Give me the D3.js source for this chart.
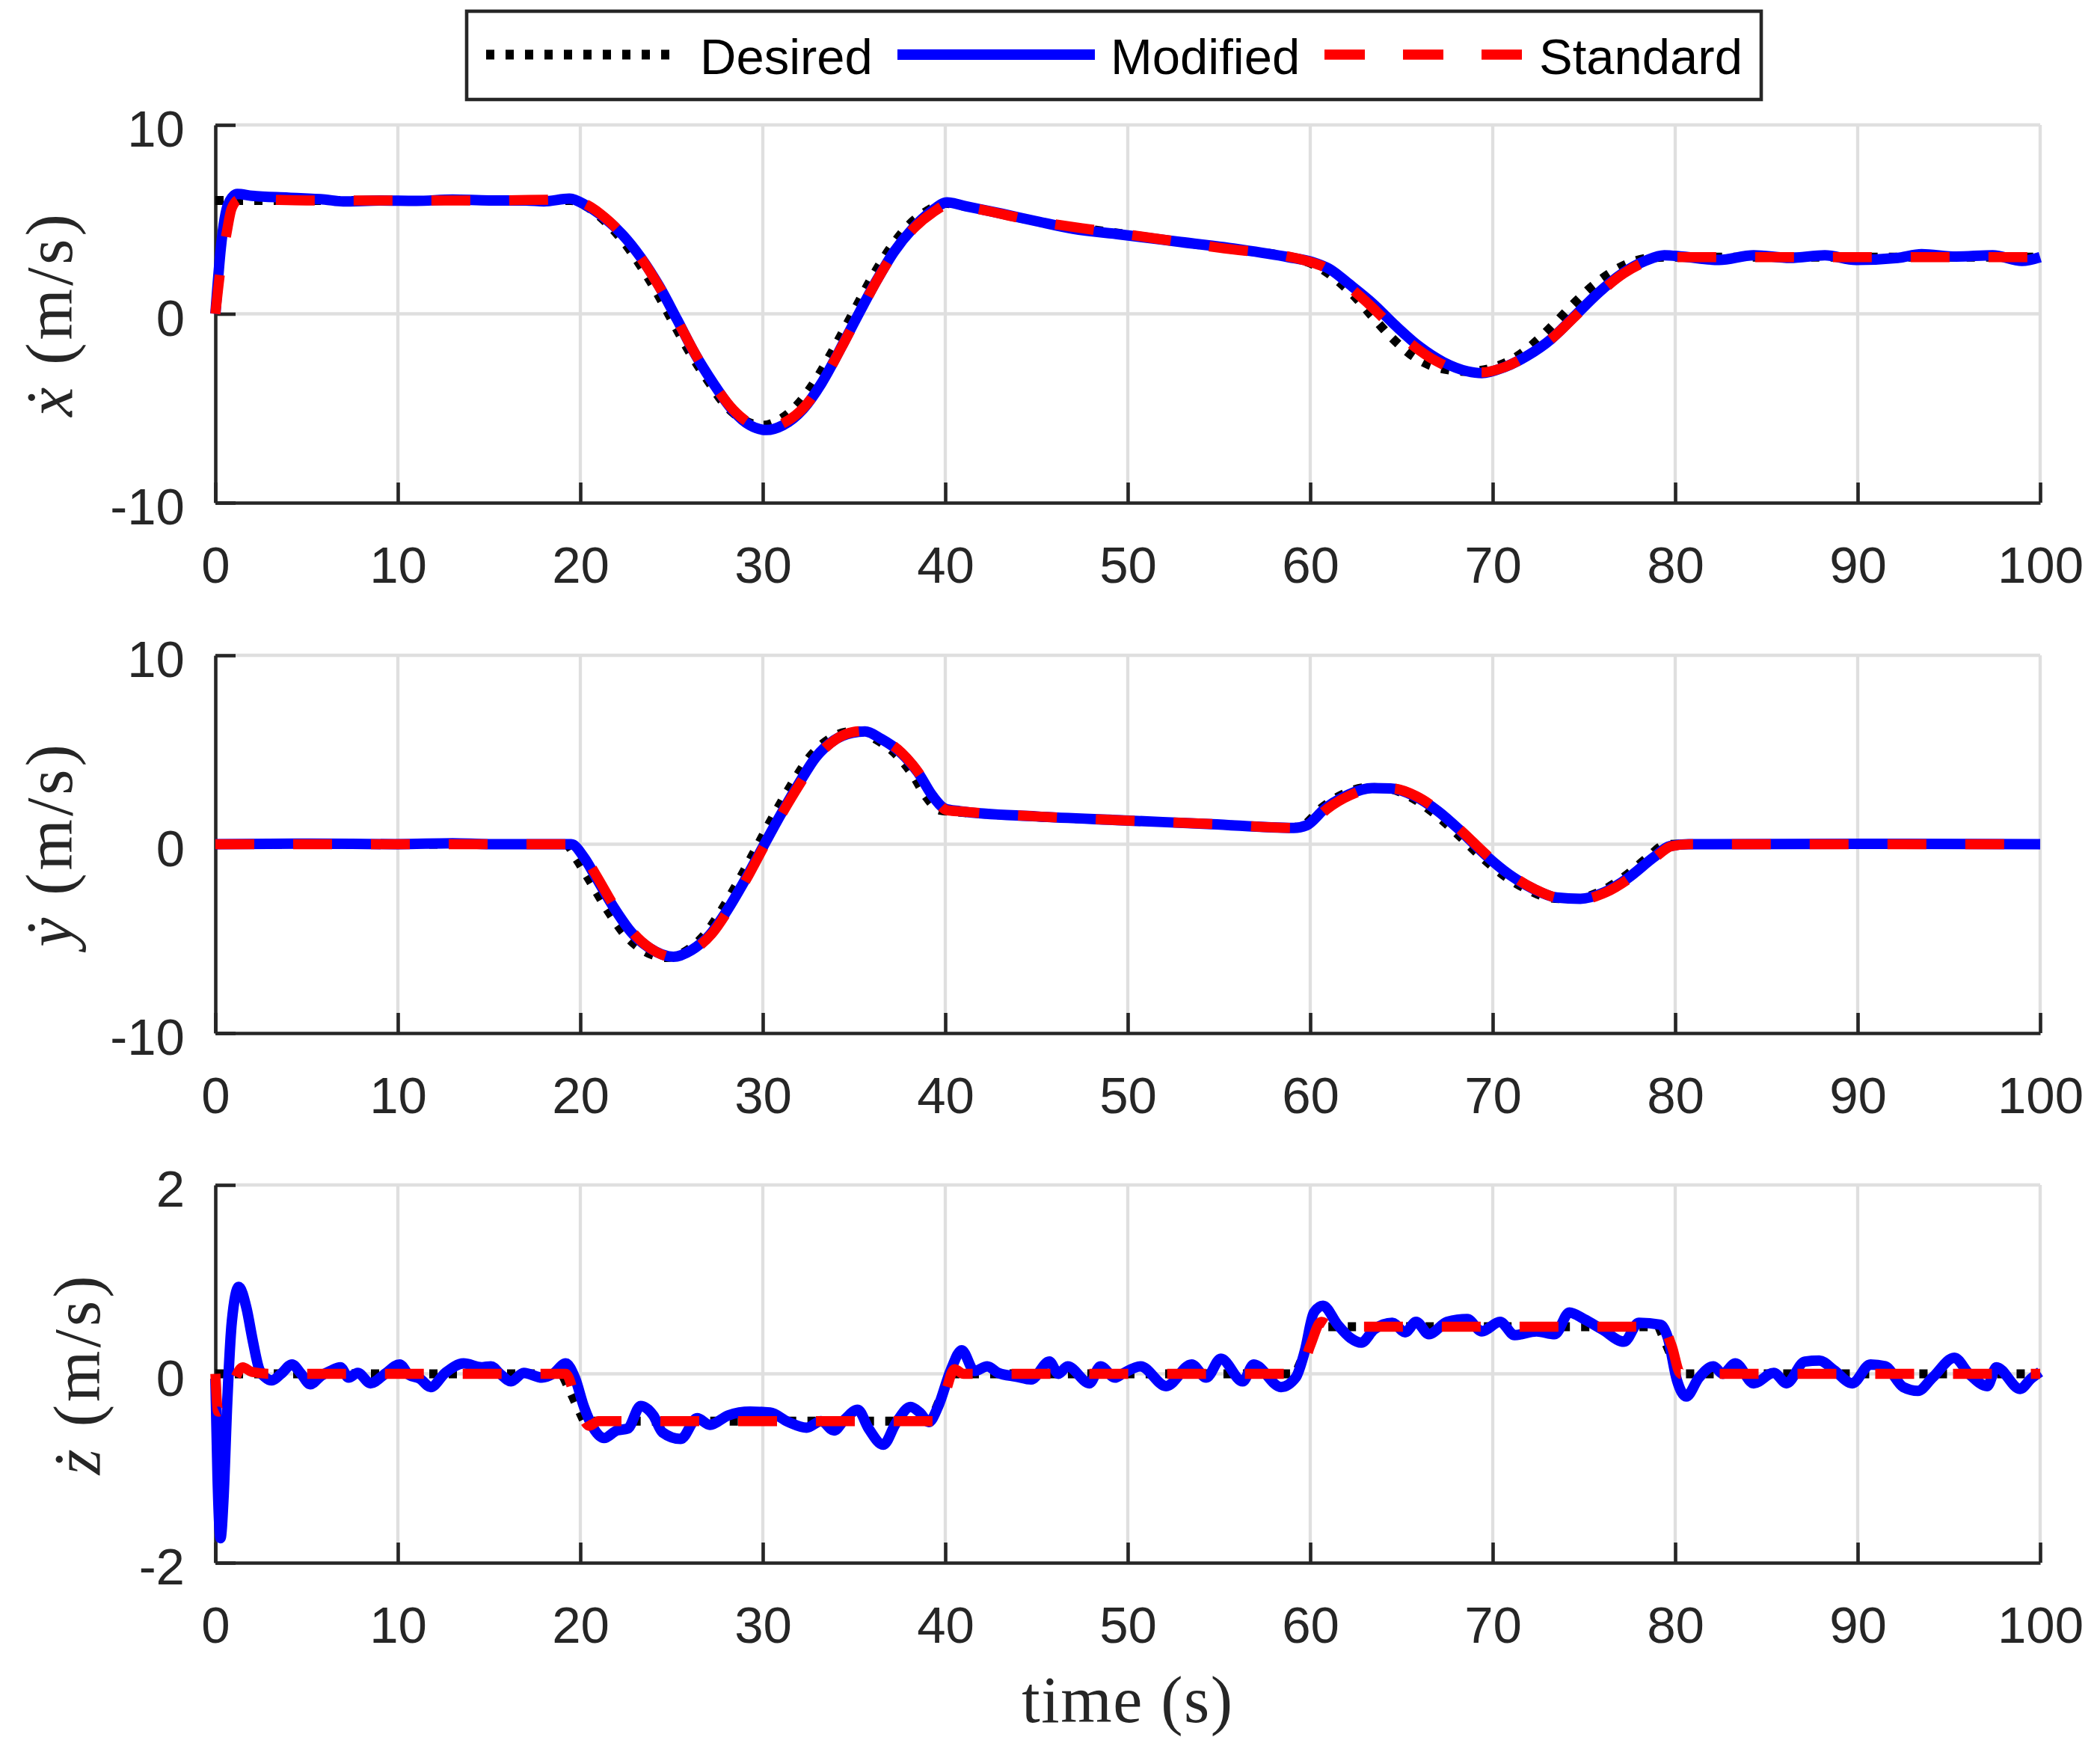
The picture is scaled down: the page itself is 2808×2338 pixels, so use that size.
<!DOCTYPE html>
<html>
<head>
<meta charset="utf-8">
<script src="https://cdn.jsdelivr.net/npm/d3@7"></script>
<style>
  body { margin: 0; background: #fff; }
</style>
</head>
<body>
<div id="chart"></div>
<script>
// ---- Data ----
const timeTicks = [0, 10, 20, 30, 40, 50, 60, 70, 80, 90, 100];
const xyTicks = [-10, 0, 10];
const zTicks = [-2, 0, 2];
const seriesNames = ["Desired", "Modified", "Standard"];

// x velocity [time, value]
const xDesired = [[0,6],[19.5,6],[20.3,5.7],[21.3,4.95],[22.3,3.9],[23.3,2.55],[24.3,0.95],[25.0,-0.3],[26.0,-2.05],[27.0,-3.55],[28.0,-4.9],[29.0,-5.65],[30.0,-5.9],[31.0,-5.55],[32.0,-4.7],[33.0,-3.35],[34.0,-1.65],[35.0,0.15],[36.0,1.95],[37.0,3.5],[38.0,4.7],[39.0,5.45],[40.0,5.85],[41.0,5.7],[45.0,4.9],[50.0,4.2],[55.0,3.5],[59.5,2.85],[60.5,2.45],[61.5,1.75],[62.5,0.85],[63.5,-0.25],[64.5,-1.3],[65.5,-2.15],[66.5,-2.7],[67.5,-2.95],[68.5,-3.05],[69.3,-3.0],[70.3,-2.75],[71.5,-2.15],[72.5,-1.35],[73.5,-0.4],[74.5,0.6],[75.5,1.5],[76.5,2.2],[77.5,2.7],[78.5,2.95],[79.5,3.0],[100,3.0]];
const xModified = [[0,0],[0.3,3.5],[0.7,5.8],[1.2,6.35],[2,6.25],[4,6.15],[6,6.05],[7,5.95],[9,6.0],[11,5.98],[13,6.05],[15,6.0],[17,6.0],[18,5.95],[19.4,6.1],[20.3,5.75],[21.3,5.1],[22.3,4.2],[23.3,3.0],[24.3,1.5],[25.3,-0.3],[26.3,-2.15],[27.3,-3.7],[28.3,-5.05],[29.3,-5.9],[30.2,-6.15],[31.1,-5.9],[32.2,-5.05],[33.2,-3.7],[34.2,-1.95],[35.2,-0.1],[36.2,1.7],[37.2,3.3],[38.2,4.5],[39.2,5.4],[40.1,5.9],[41.1,5.7],[43.1,5.3],[45,4.9],[47,4.5],[49.6,4.2],[52.9,3.8],[56.2,3.4],[58.8,3.0],[60.1,2.75],[61.1,2.35],[62.1,1.6],[63.4,0.57],[64.7,-0.65],[66,-1.75],[67.3,-2.56],[68.6,-3.04],[69.4,-3.14],[70.6,-2.84],[71.9,-2.22],[73.2,-1.34],[74.5,-0.11],[75.8,1.12],[77.1,2.14],[78.4,2.82],[79.4,3.1],[80.4,3.03],[82.4,2.85],[84.3,3.1],[86.3,2.96],[88.2,3.1],[89.9,2.85],[92.2,2.96],[93.5,3.16],[95.4,3.03],[97.4,3.1],[99,2.8],[100,3.0]];
const xStandard = [[0,0],[0.3,2.5],[0.6,4.2],[0.9,5.6],[1.3,6.05],[2,6.05],[5,6.0],[10,6.0],[15,6.0],[19.4,6.05],[20.4,5.75],[21.4,5.05],[22.4,4.1],[23.4,2.85],[24.4,1.3],[25.4,-0.5],[26.4,-2.3],[27.4,-3.85],[28.4,-5.1],[29.4,-5.85],[30.3,-6.05],[31.2,-5.75],[32.3,-4.9],[33.3,-3.55],[34.3,-1.8],[35.3,0.05],[36.3,1.85],[37.3,3.4],[38.3,4.55],[39.3,5.35],[40.2,5.8],[41.2,5.65],[45,4.9],[50,4.2],[55,3.5],[59.8,2.8],[60.8,2.45],[61.8,1.7],[63.0,0.7],[64.3,-0.5],[65.6,-1.65],[66.9,-2.5],[68.2,-3.0],[69.4,-3.1],[70.7,-2.8],[72.0,-2.15],[73.3,-1.25],[74.6,-0.05],[75.9,1.15],[77.2,2.15],[78.5,2.8],[79.5,3.0],[80.5,3.0],[100,3.0]];

// y velocity [time, value]
const yDesired = [[0,0],[19.2,0],[19.8,-0.8],[20.5,-1.9],[21.5,-3.5],[22.5,-4.85],[23.5,-5.65],[24.7,-6.0],[25.8,-5.65],[26.8,-4.8],[27.7,-3.55],[28.7,-1.9],[29.7,-0.1],[30.7,1.7],[31.7,3.35],[32.6,4.65],[33.6,5.55],[34.6,5.95],[35.3,6.0],[36.2,5.55],[37.2,4.85],[38.2,3.7],[39.0,2.45],[39.7,1.8],[40.5,1.72],[45,1.45],[50,1.25],[55,1.05],[59,0.88],[59.6,1.0],[60.6,1.9],[61.8,2.65],[63.1,3.0],[64.1,2.97],[65.4,2.55],[66.7,1.7],[68.0,0.6],[69.3,-0.6],[70.6,-1.65],[71.9,-2.4],[73.2,-2.85],[74.5,-2.9],[75.8,-2.55],[77.1,-1.8],[78.5,-0.7],[79.4,-0.05],[80,0],[100,0]];
const yModified = [[0,0],[5,0.03],[10,0],[13,0.05],[15,0],[19.5,0],[20.2,-0.7],[20.8,-1.66],[21.8,-3.3],[22.8,-4.67],[23.8,-5.5],[25.1,-5.96],[26.1,-5.6],[27.1,-4.8],[28.0,-3.57],[29.0,-1.94],[30.0,-0.16],[31.0,1.6],[32.0,3.25],[32.9,4.6],[33.9,5.5],[34.9,5.9],[35.6,5.97],[36.5,5.57],[37.5,4.9],[38.5,3.8],[39.3,2.56],[40.0,1.88],[40.8,1.75],[45,1.47],[49.6,1.27],[54.6,1.06],[59.1,0.86],[59.8,1.0],[60.8,1.88],[62.1,2.63],[63.4,2.97],[64.4,2.95],[65.7,2.56],[67,1.75],[68.3,0.65],[69.6,-0.57],[70.9,-1.6],[72.2,-2.35],[73.5,-2.82],[74.8,-2.89],[76.1,-2.55],[77.4,-1.8],[78.8,-0.71],[79.7,-0.1],[80.7,0],[90,0.02],[100,0]];
const yStandard = [[0,0],[19.6,0],[20.3,-0.75],[20.9,-1.7],[21.9,-3.35],[22.9,-4.7],[23.9,-5.55],[25.2,-6.0],[26.2,-5.6],[27.2,-4.75],[28.1,-3.5],[29.1,-1.85],[30.1,-0.05],[31.1,1.7],[32.1,3.3],[33.0,4.65],[34.0,5.55],[35.0,5.95],[35.7,6.0],[36.6,5.55],[37.6,4.85],[38.6,3.7],[39.4,2.45],[40.1,1.8],[41,1.72],[45,1.47],[50,1.25],[55,1.05],[59.2,0.86],[59.9,1.0],[60.9,1.85],[62.2,2.6],[63.5,2.97],[64.5,2.95],[65.8,2.55],[67.1,1.72],[68.4,0.6],[69.7,-0.6],[71.0,-1.62],[72.3,-2.38],[73.6,-2.84],[74.9,-2.9],[76.2,-2.55],[77.5,-1.8],[78.9,-0.7],[79.8,-0.1],[80.8,0],[100,0]];

// z velocity [time, value]
const zDesired = [[0,0],[19,0],[20.2,-0.5],[39.2,-0.5],[40.3,0],[59.2,0],[60.3,0.5],[79.1,0.5],[80.2,0],[100,0]];
const zModified = [[0,-0.05],[0.12,-1.1],[0.28,-1.74],[0.45,-1.3],[0.65,-0.3],[0.9,0.55],[1.28,0.92],[1.7,0.7],[2.05,0.35],[2.4,0.05],[2.75,-0.04],[3.1,-0.07],[3.6,0.0],[4.2,0.1],[4.7,0.0],[5.2,-0.11],[5.8,-0.02],[6.3,0.03],[6.85,0.07],[7.3,-0.04],[7.8,0.01],[8.5,-0.1],[9.3,0.0],[10.1,0.1],[10.6,-0.01],[11.2,-0.05],[11.8,-0.14],[12.6,0.01],[13.6,0.11],[14.6,0.07],[15.1,0.08],[15.6,0.0],[16.2,-0.08],[16.9,0.01],[17.9,-0.04],[18.5,0.0],[19.2,0.11],[19.7,-0.04],[20.2,-0.35],[20.7,-0.57],[21.3,-0.68],[22.0,-0.6],[22.6,-0.58],[23.3,-0.34],[24.0,-0.44],[24.5,-0.62],[25.5,-0.69],[26.4,-0.47],[27.1,-0.54],[28.1,-0.44],[29.3,-0.4],[30.4,-0.41],[31.4,-0.51],[32.4,-0.57],[33.2,-0.5],[33.9,-0.6],[34.5,-0.48],[35.2,-0.38],[35.8,-0.58],[36.6,-0.75],[37.3,-0.52],[38.1,-0.35],[38.6,-0.41],[39.1,-0.51],[39.6,-0.35],[40.3,0.04],[40.9,0.25],[41.6,0.03],[42.3,0.08],[42.9,0.01],[43.9,-0.03],[44.7,-0.06],[45.7,0.13],[46.2,0.0],[46.7,0.08],[47.9,-0.1],[48.5,0.08],[49.3,-0.04],[49.7,0],[50.7,0.08],[52.1,-0.13],[53.5,0.1],[54.3,-0.04],[55.1,0.16],[56.3,-0.08],[56.9,0.1],[58.4,-0.14],[59.2,-0.04],[59.7,0.24],[60.2,0.65],[60.7,0.72],[61.5,0.52],[62.2,0.38],[62.8,0.33],[63.5,0.47],[64.5,0.54],[65.2,0.44],[65.8,0.55],[66.5,0.42],[67.5,0.55],[68.6,0.58],[69.4,0.45],[70.4,0.55],[71.2,0.41],[72.4,0.45],[73.4,0.42],[74.2,0.65],[75.0,0.58],[76.0,0.47],[77.2,0.34],[78.0,0.54],[79.2,0.52],[79.6,0.38],[80.1,-0.07],[80.6,-0.24],[81.3,-0.04],[82.1,0.08],[82.6,0.0],[83.3,0.11],[84.3,-0.1],[85.4,0.01],[86.1,-0.1],[87.1,0.13],[87.9,0.14],[88.7,0.04],[89.7,-0.1],[90.7,0.1],[91.5,0.08],[92.5,-0.14],[93.3,-0.18],[94.1,-0.04],[95.3,0.17],[96.1,0.0],[97.1,-0.13],[97.6,0.07],[98.9,-0.16],[99.5,-0.05],[100,0.02]];
const zStandard = [[0,0],[0.15,-0.4],[0.55,-0.3],[1.0,-0.08],[1.5,0.07],[2.0,0.02],[3,0],[19.2,0],[19.8,-0.3],[20.5,-0.55],[21.0,-0.5],[39.4,-0.5],[40.0,-0.2],[40.5,0.05],[41,0],[59.4,0],[60.0,0.3],[60.6,0.55],[61.2,0.5],[79.3,0.5],[79.8,0.3],[80.3,0],[100,0]];

// ---- Layout ----
const width = 2808;
const height = 2338;
const plotLeft = 288;
const plotRight = 2728;
const axisColor = "#262626";
const gridColor = "#dfdfdf";
const tickFont = "'Liberation Sans', Arial, Helvetica, sans-serif";
const labelFont = "'Liberation Serif', 'Times New Roman', serif";

const panels = [
  { top: 167, bottom: 672, domain: [-10, 10], ticks: xyTicks, symbol: "ẋ", labelX: 70,
    data: [xDesired, xModified, xStandard] },
  { top: 876, bottom: 1381, domain: [-10, 10], ticks: xyTicks, symbol: "ẏ", labelX: 70,
    data: [yDesired, yModified, yStandard] },
  { top: 1584, bottom: 2089, domain: [-2, 2], ticks: zTicks, symbol: "ż", labelX: 107,
    data: [zDesired, zModified, zStandard] },
];

// line styles for Desired, Modified, Standard
const lineStyles = [
  { color: "#000000", width: 12, dash: "11,15" },
  { color: "#0000ff", width: 14, dash: null },
  { color: "#ff0000", width: 13.5, dash: "52,52" },
];

const svg = d3.select("#chart")
  .append("svg")
  .attr("width", width)
  .attr("height", height)
  .style("background", "#fff");

const x = d3.scaleLinear().domain([0, 100]).range([plotLeft, plotRight]);

panels.forEach((p) => {
  const y = d3.scaleLinear().domain(p.domain).range([p.bottom, p.top]);
  const g = svg.append("g");

  // Grid lines
  g.append("g")
    .selectAll("line")
    .data(timeTicks.filter((t) => t !== 0))
    .join("line")
    .attr("x1", (d) => x(d)).attr("x2", (d) => x(d))
    .attr("y1", p.top).attr("y2", p.bottom)
    .attr("stroke", gridColor).attr("stroke-width", 4.3);
  g.append("g")
    .selectAll("line")
    .data(p.ticks.filter((t) => t !== p.domain[0]))
    .join("line")
    .attr("x1", plotLeft).attr("x2", plotRight)
    .attr("y1", (d) => y(d)).attr("y2", (d) => y(d))
    .attr("stroke", gridColor).attr("stroke-width", 4.3);

  // Bottom axis (ticks pointing inward)
  const xAxis = g.append("g")
    .attr("transform", `translate(0,${p.bottom})`)
    .call(d3.axisBottom(x).tickValues(timeTicks).tickSize(-27).tickSizeOuter(0).tickPadding(58).tickFormat(d3.format("d")));
  // Left axis
  const yAxis = g.append("g")
    .attr("transform", `translate(${plotLeft},0)`)
    .call(d3.axisLeft(y).tickValues(p.ticks).tickSize(-27).tickSizeOuter(0).tickPadding(41).tickFormat((d) => String(d)));

  [xAxis, yAxis].forEach((a) => {
    a.attr("font-family", tickFont).attr("font-size", 69);
    a.select(".domain").attr("stroke", axisColor).attr("stroke-width", 4.6);
    a.selectAll(".tick line").attr("stroke", axisColor).attr("stroke-width", 4.6);
    a.selectAll(".tick text").attr("fill", axisColor);
  });
  yAxis.selectAll(".tick text").attr("dy", "0.42em");

  // Y label
  const lbl = g.append("text")
    .attr("transform", `translate(${p.labelX},${(p.top + p.bottom) / 2}) rotate(-90)`)
    .attr("text-anchor", "middle")
    .attr("dy", "0.3em")
    .attr("font-family", labelFont)
    .attr("font-size", 88)
    .attr("letter-spacing", 4)
    .attr("fill", axisColor);
  lbl.append("tspan").attr("font-style", "italic").text(p.symbol);
  lbl.append("tspan").text(" (m/s)");

  // Data lines
  const line = d3.line()
    .x((d) => x(d[0]))
    .y((d) => y(d[1]))
    .curve(d3.curveMonotoneX);

  p.data.forEach((series, i) => {
    const s = lineStyles[i];
    const useCurve = (i === 0 && p.domain[0] === -2) ? d3.curveLinear : d3.curveMonotoneX;
    g.append("path")
      .datum(series)
      .attr("d", line.curve(useCurve))
      .attr("fill", "none")
      .attr("stroke", s.color)
      .attr("stroke-width", s.width)
      .attr("stroke-linejoin", "round")
      .attr("stroke-dasharray", s.dash);
  });
});

// X label
svg.append("text")
  .attr("x", (plotLeft + plotRight) / 2)
  .attr("y", 2302)
  .attr("text-anchor", "middle")
  .attr("font-family", labelFont)
  .attr("font-size", 88)
  .attr("letter-spacing", 1.5)
  .attr("fill", axisColor)
  .text("time (s)");

// Legend
const legend = svg.append("g");
legend.append("rect")
  .attr("x", 624).attr("y", 15)
  .attr("width", 1731).attr("height", 118)
  .attr("fill", "#fff")
  .attr("stroke", axisColor).attr("stroke-width", 4.6);

const legendItems = [
  { x1: 650, x2: 898, tx: 936 },
  { x1: 1200, x2: 1464, tx: 1485 },
  { x1: 1771, x2: 2035, tx: 2058 },
];
legendItems.forEach((it, i) => {
  const s = lineStyles[i];
  legend.append("line")
    .attr("x1", it.x1).attr("x2", it.x2)
    .attr("y1", 73).attr("y2", 73)
    .attr("stroke", s.color)
    .attr("stroke-width", i === 0 ? 13 : s.width)
    .attr("stroke-dasharray", i === 2 ? "54,51" : s.dash);
  legend.append("text")
    .attr("x", it.tx).attr("y", 99)
    .attr("font-family", tickFont)
    .attr("font-size", 67)
    .attr("fill", "#000")
    .text(seriesNames[i]);
});
</script>
</body>
</html>
